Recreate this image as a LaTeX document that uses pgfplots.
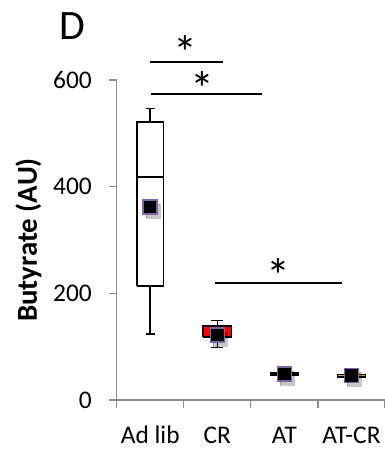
\documentclass[border=0pt]{standalone}
\usepackage{fontspec}
\setmainfont{Carlito}
\usepackage{pgfplots}
\pgfplotsset{compat=1.18}
\definecolor{axgray}{HTML}{8C8C8C}
\definecolor{mpurple}{HTML}{7F63A6}
\definecolor{orng}{HTML}{F79646}
\begin{document}
\fontsize{25.5}{30}\selectfont
\begin{tikzpicture}
\useasboundingbox (-116.7bp,-51bp) rectangle (268.3bp,400bp);
\begin{axis}[
  scale only axis, width=268.3bp, height=320bp,
  xmin=0.5, xmax=4.5, ymin=0, ymax=600,
  axis lines*=left,
  clip=false,
  ytick={0,200,400,600},
  xtick={1,2,3,4}, xticklabels={Ad lib,CR,AT,AT-CR},
  minor xtick={0.5,1.5,2.5,3.5,4.5},
  tick align=outside,
  major tick length=8bp, minor tick length=8bp,
  tick style={axgray, line width=1.2bp},
  major x tick style={draw=none},
  minor x tick style={axgray, line width=1.2bp},
  axis line style={axgray, line width=1.5bp},
  /pgf/number format/assume math mode=true,
  yticklabel style={anchor=east, xshift=-8.2bp},
  xticklabel style={anchor=base, yshift=-35.7bp},
  ylabel={\textbf{Butyrate (AU)}},
  ylabel style={at={(axis description cs:-0.329,0.5)}, anchor=center, font=\fontsize{29}{34}\selectfont},
  every axis plot/.append style={line join=miter},
]
% Ad lib box
\addplot[draw=black, fill=white, line width=1.5bp] coordinates {(0.8,214) (1.2,214) (1.2,521) (0.8,521) (0.8,214)};
\addplot[black, line width=1.5bp] coordinates {(0.8,418) (1.2,418)};
\addplot[black, line width=1.5bp] coordinates {(1,521) (1,547)};
\addplot[black, line width=1.5bp] coordinates {(0.93,547) (1.07,547)};
\addplot[black, line width=1.5bp] coordinates {(1,214) (1,124)};
\addplot[black, line width=1.5bp] coordinates {(0.93,124) (1.07,124)};
% CR box
\addplot[black, line width=1.5bp] coordinates {(2,139) (2,149)};
\addplot[black, line width=1.5bp] coordinates {(1.91,149) (2.09,149)};
\addplot[black, line width=1.5bp] coordinates {(2,118) (2,98)};
\addplot[black, line width=1.5bp] coordinates {(1.91,98) (2.09,98)};
\addplot[draw=black, fill=red, line width=1.5bp] coordinates {(1.79,118) (2.21,118) (2.21,139) (1.79,139) (1.79,118)};
% AT box
\addplot[draw=black, fill=black, line width=1.5bp] coordinates {(2.79,47) (3.21,47) (3.21,51) (2.79,51) (2.79,47)};
% AT-CR box
\addplot[draw=black, fill=orng, line width=1.5bp] coordinates {(3.79,43) (4.21,43) (4.21,48) (3.79,48) (3.79,43)};
% mean markers with shadow
\addplot[only marks, mark=square*, mark size=7bp, mark options={fill=black, draw=none, opacity=0.22, xshift=3bp, yshift=-4bp}] coordinates {(1,362) (2,122) (3,49) (4,46)};
\addplot[only marks, mark=square*, mark size=7bp, mark options={fill=black, draw=mpurple, line width=1.5bp}] coordinates {(1,362) (2,122) (3,49) (4,46)};
% significance
\draw[line width=2bp] (axis cs:1.0,633) -- (axis cs:2.085,633);
\draw[line width=2bp] (axis cs:1.01,573) -- (axis cs:2.67,573);
\draw[line width=2bp] (axis cs:1.966,220) -- (axis cs:3.86,220);
\node[anchor=base, font=\fontsize{48}{48}\selectfont] at (axis cs:1.526,619) {*};
\node[anchor=base, font=\fontsize{48}{48}\selectfont] at (axis cs:1.78,552) {*};
\node[anchor=base, font=\fontsize{48}{48}\selectfont] at (axis cs:2.915,202) {*};
\end{axis}
\node[font=\fontsize{42}{42}\selectfont] at (-44.7bp,374bp) {D};
\end{tikzpicture}
\end{document}
